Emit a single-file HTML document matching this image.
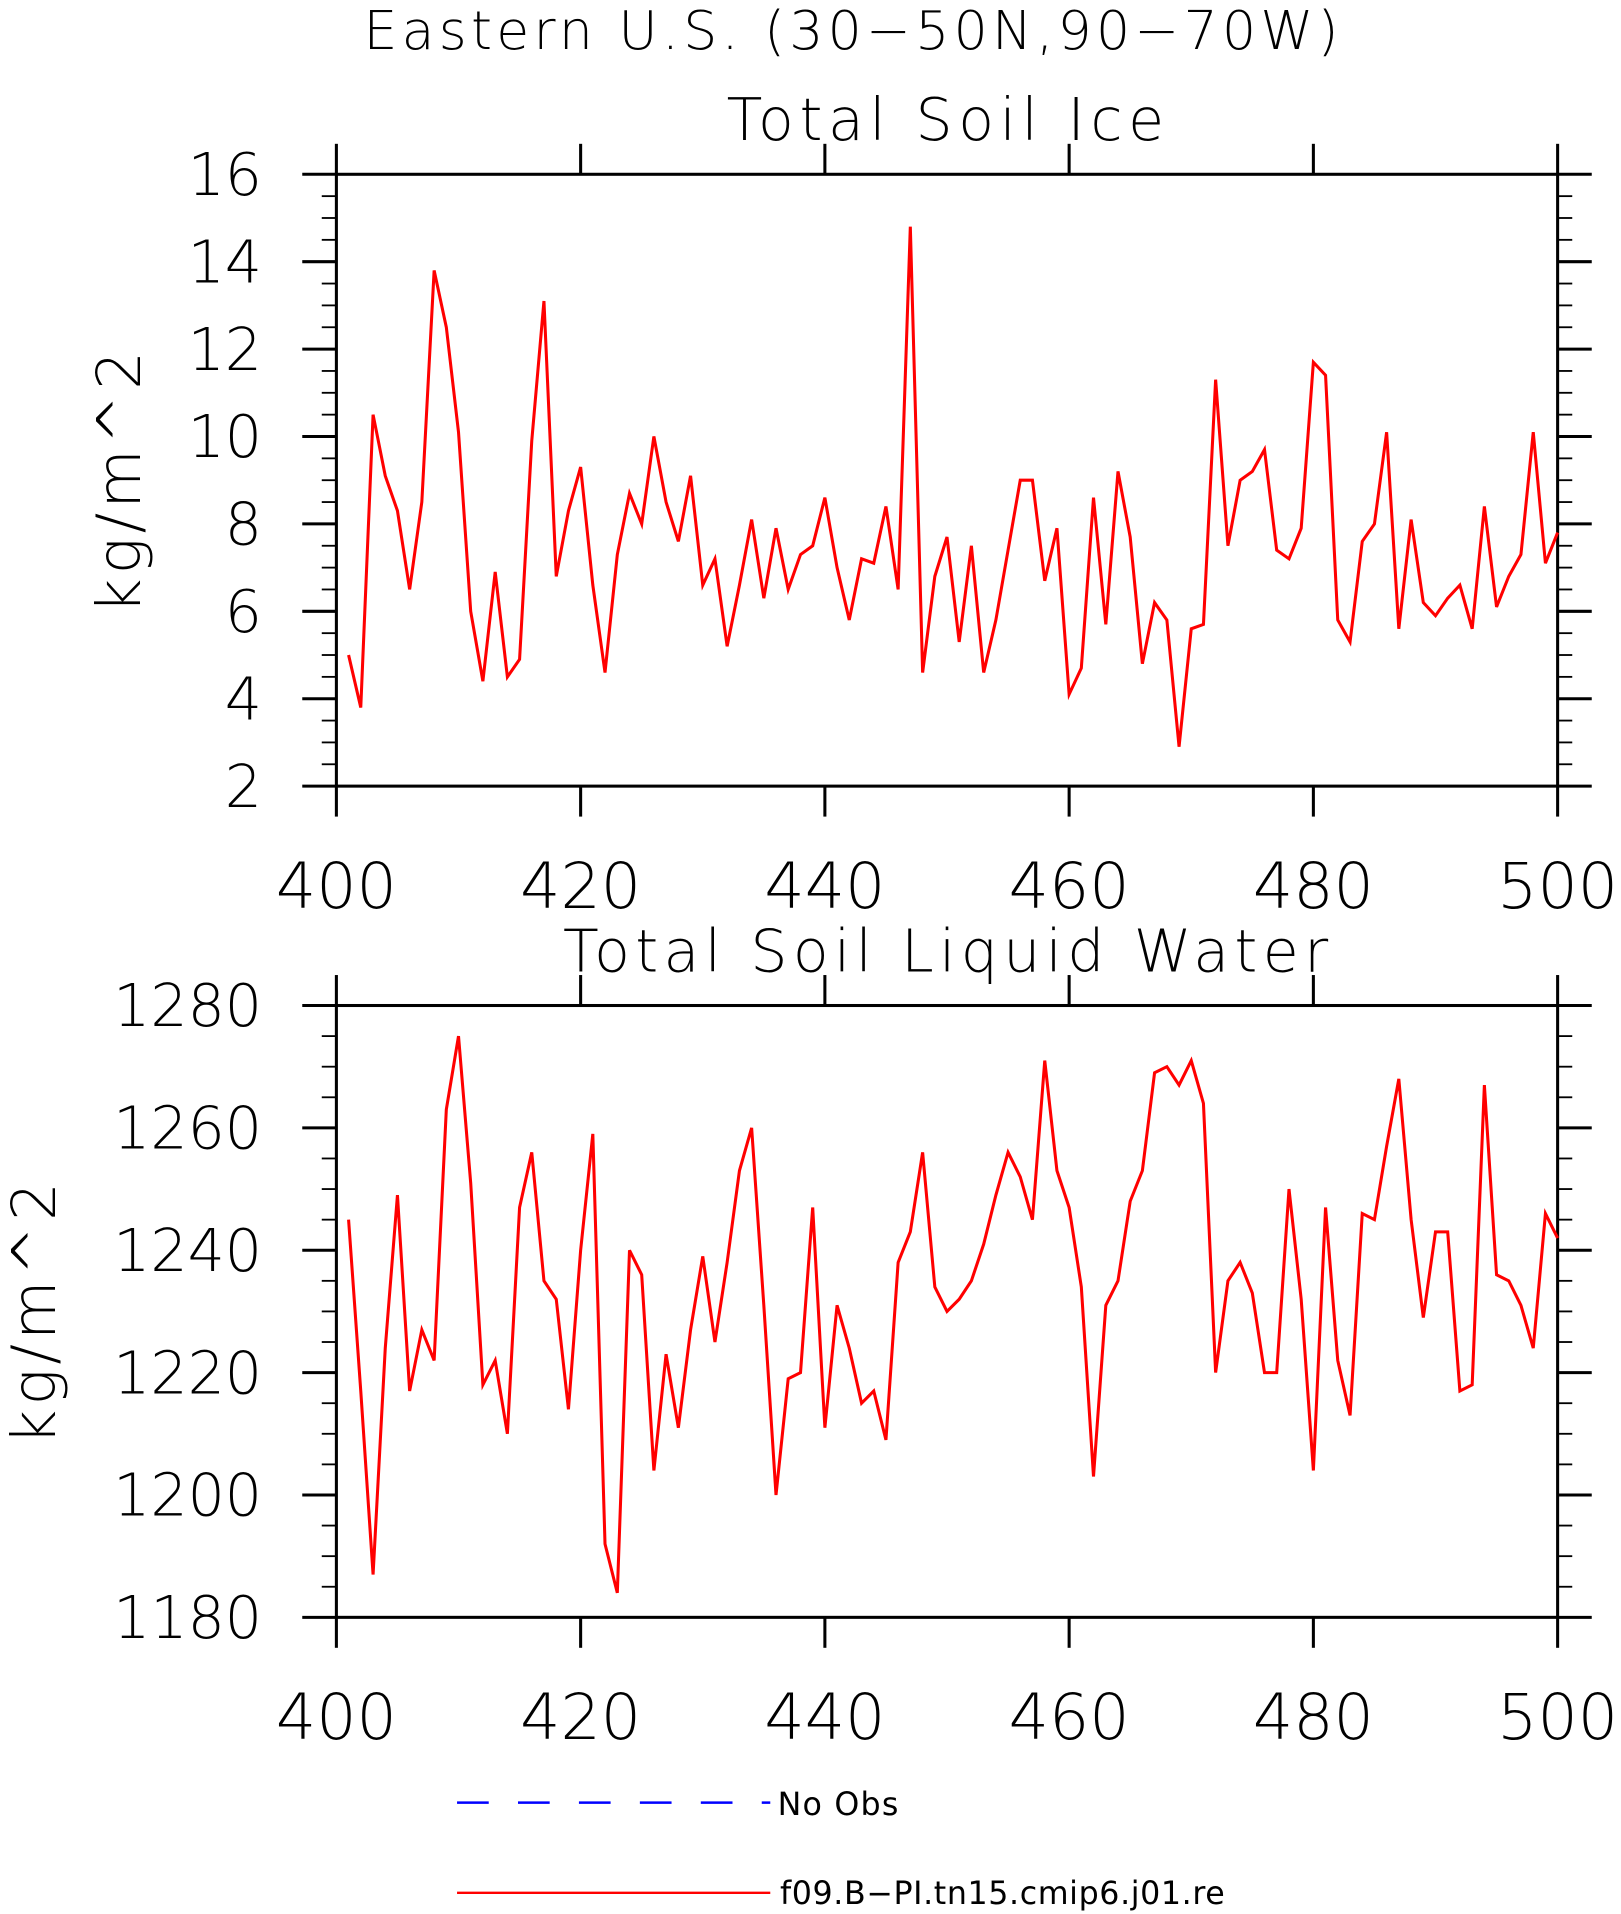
<!DOCTYPE html>
<html><head><meta charset="utf-8"><style>body{margin:0;background:#fff}svg{display:block}text{font-family:"DejaVu Sans","Liberation Sans",sans-serif;fill:#000}</style></head>
<body>
<svg id="chart" width="1621" height="1914" viewBox="0 0 1330 1570.4" xmlns="http://www.w3.org/2000/svg">
<text x="700" y="40" font-size="44" text-anchor="middle" font-weight="200" letter-spacing="3.5">Eastern U.S. (30−50N,90−70W)</text>
<g id="p1"></g>
<g id="p2"></g>
<g>
<line x1="375" y1="1479" x2="632" y2="1479" stroke="#0000ff" stroke-width="2" stroke-dasharray="26,24"/>
<text x="638" y="1489" font-size="26" letter-spacing="1">No Obs</text>
<line x1="375" y1="1553" x2="632" y2="1553" stroke="#ff0000" stroke-width="2"/>
<text x="640" y="1562" font-size="26" letter-spacing="0.5">f09.B−PI.tn15.cmip6.j01.re</text>
</g>
</svg>
<script>
const years=[];for(let y=401;y<=500;y++)years.push(y);
const iceValues=[5.0,3.8,10.5,9.1,8.3,6.5,8.5,13.8,12.5,10.1,6.0,4.4,6.9,4.5,4.9,9.9,13.1,6.8,8.3,9.3,6.6,4.6,7.3,8.7,8.0,10.0,8.5,7.6,9.1,6.6,7.2,5.2,6.6,8.1,6.3,7.9,6.5,7.3,7.5,8.6,7.0,5.8,7.2,7.1,8.4,6.5,14.8,4.6,6.8,7.7,5.3,7.5,4.6,5.8,7.4,9.0,9.0,6.7,7.9,4.1,4.7,8.6,5.7,9.2,7.7,4.8,6.2,5.8,2.9,5.6,5.7,11.3,7.5,9.0,9.2,9.7,7.4,7.2,7.9,11.7,11.4,5.8,5.3,7.6,8.0,10.1,5.6,8.1,6.2,5.9,6.3,6.6,5.6,8.4,6.1,6.8,7.3,10.1,7.1,7.8];
const liqValues=[1245,1217,1187,1224,1249,1217,1227,1222,1263,1275,1251,1218,1222,1210,1247,1256,1235,1232,1214,1240,1259,1192,1184,1240,1236,1204,1223,1211,1227,1239,1225,1238,1253,1260,1231,1200,1219,1220,1247,1211,1231,1224,1215,1217,1209,1238,1243,1256,1234,1230,1232,1235,1241,1249,1256,1252,1245,1271,1253,1247,1234,1203,1231,1235,1248,1253,1269,1270,1267,1271,1264,1220,1235,1238,1233,1220,1220,1250,1232,1204,1247,1222,1213,1246,1245,1257,1268,1245,1229,1243,1243,1217,1218,1267,1236,1235,1231,1224,1246,1242];
const xTicks=[400,420,440,460,480,500];
const iceTicks=[2,4,6,8,10,12,14,16];
const liqTicks=[1180,1200,1220,1240,1260,1280];
const NS="http://www.w3.org/2000/svg";
function mk(p,t,a){const e=document.createElementNS(NS,t);for(const k in a)e.setAttribute(k,a[k]);p.appendChild(e);return e;}
function panel(g,top,bot,ymin,ymax,minorStep,ticks,vals,title,tls,ytitle,ytx){
 const L=276,R=1278;
 const X=v=>L+(v-400)/100*(R-L);
 const Y=v=>bot-(v-ymin)/(ymax-ymin)*(bot-top);
 let t=mk(g,'text',{x:778,y:top-28,'font-size':48,'text-anchor':'middle','font-weight':'200','letter-spacing':tls});t.textContent=title;
 
 let r=mk(g,'rect',{x:L,y:top,width:R-L,height:bot-top,fill:'none',stroke:'#000','stroke-width':2.5});
 
 for(let v=ymin;v<=ymax+1e-9;v+=minorStep){
  const maj=ticks.some(k=>Math.abs(k-v)<1e-6);const len=maj?28:12;
  let l=mk(g,'line',{x1:L-len,x2:L,y1:Y(v),y2:Y(v),stroke:'#000','stroke-width':maj?2.5:1.5});
  
  let l2=mk(g,'line',{x1:R,x2:R+len,y1:Y(v),y2:Y(v),stroke:'#000','stroke-width':maj?2.5:1.5});
  
 }
 ticks.forEach(v=>{let e=mk(g,'text',{x:215,y:Y(v)+17,'font-size':48,'text-anchor':'end','font-weight':'200'});e.textContent=v;
  });
 xTicks.forEach(v=>{
  let a=mk(g,'line',{x1:X(v),x2:X(v),y1:bot,y2:bot+25,stroke:'#000','stroke-width':2.5});
  
  let b=mk(g,'line',{x1:X(v),x2:X(v),y1:top-25,y2:top,stroke:'#000','stroke-width':2.5});
  
  let e=mk(g,'text',{x:X(v),y:bot+100,'font-size':52,'text-anchor':'middle','font-weight':'200'});e.textContent=v;
  
 });
 const cy=(top+bot)/2;
 let yt=mk(g,'text',{x:ytx,y:cy,'font-size':50,'text-anchor':'middle','font-weight':'200','letter-spacing':3.5,transform:`rotate(-90 ${ytx} ${cy})`});yt.textContent=ytitle;
 
 const d=vals.map((v,i)=>(i?'L':'M')+X(years[i]).toFixed(1)+','+Y(v).toFixed(1)).join('');
 let p=mk(g,'path',{d:d,fill:'none',stroke:'#ff0000','stroke-width':2.5,'stroke-linejoin':'miter'});
 
}
panel(document.getElementById('p1'),143,645,2,16,0.5,iceTicks,iceValues,'Total Soil Ice',4.6,'kg/m^2',115);
panel(document.getElementById('p2'),825,1327,1180,1280,5,liqTicks,liqValues,'Total Soil Liquid Water',4.4,'kg/m^2',45);
</script>
</body></html>
